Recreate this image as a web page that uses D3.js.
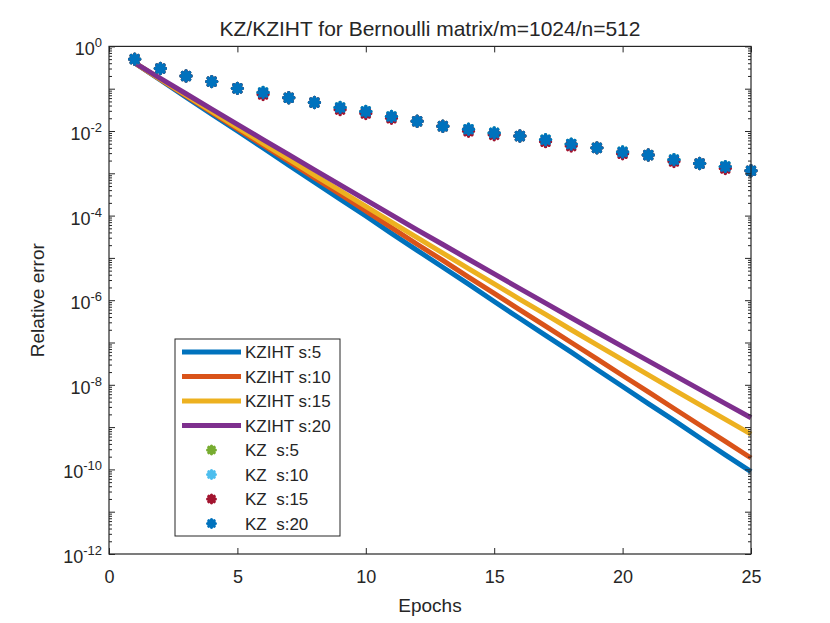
<!DOCTYPE html>
<html><head><meta charset="utf-8">
<script src="https://cdn.jsdelivr.net/npm/d3@7"></script>
<style>
body{margin:0;background:#fff}
text{font-family:"Liberation Sans",Arial,sans-serif;fill:#262626}
</style>
</head><body>
<svg id="c" width="830" height="623"></svg>
<script>
// ---------- data ----------
const epochs = [1,2,3,4,5,6,7,8,9,10,11,12,13,14,15,16,17,18,19,20,21,22,23,24,25];
const kziht5  = [0.407,0.162,0.063,0.025,0.010,3.98e-3,1.55e-3,6.2e-4,2.45e-4,9.8e-5,3.8e-5,1.51e-5,6.0e-6,2.4e-6,9.3e-7,3.7e-7,1.48e-7,5.9e-8,2.3e-8,9.1e-9,3.6e-9,1.44e-9,5.6e-10,2.2e-10,8.9e-11];
const kziht10 = [0.407,0.166,0.068,0.0275,0.0112,4.6e-3,1.9e-3,7.8e-4,3.2e-4,1.29e-4,5.2e-5,2.1e-5,8.7e-6,3.5e-6,1.45e-6,5.9e-7,2.45e-7,1.0e-7,4.1e-8,1.66e-8,6.8e-9,2.75e-9,1.12e-9,4.6e-10,1.86e-10];
const kziht15 = [0.407,0.169,0.070,0.0292,0.01222,5.13e-3,2.16e-3,9.1e-4,3.87e-4,1.65e-4,7.0e-5,3.0e-5,1.30e-5,5.6e-6,2.42e-6,1.05e-6,4.6e-7,2.0e-7,8.8e-8,3.9e-8,1.72e-8,7.6e-9,3.4e-9,1.52e-9,6.8e-10];
const kziht20 = [0.407,0.176,0.0760,0.0330,0.01435,6.27e-3,2.75e-3,1.21e-3,5.3e-4,2.36e-4,1.04e-4,4.6e-5,2.07e-5,9.3e-6,4.2e-6,1.88e-6,8.5e-7,3.85e-7,1.75e-7,8.0e-8,3.67e-8,1.69e-8,7.8e-9,3.6e-9,1.66e-9];
const kz5  = [0.50,0.30,0.20,0.147,0.102,0.081,0.061,0.047,0.036,0.029,0.022,0.017,0.013,0.011,0.0090,0.0076,0.0062,0.0049,0.0040,0.0032,0.0027,0.0021,0.0017,0.00144,0.00115];
const kz10 = [0.50,0.30,0.20,0.147,0.102,0.081,0.061,0.047,0.036,0.029,0.022,0.017,0.013,0.011,0.0090,0.0076,0.0062,0.0049,0.0040,0.0032,0.0027,0.0021,0.0017,0.00144,0.00115];
const kz15 = [0.50,0.30,0.20,0.147,0.102,0.073,0.061,0.047,0.032,0.026,0.020,0.017,0.013,0.0099,0.0081,0.0076,0.0056,0.0044,0.0040,0.0029,0.0027,0.0019,0.0017,0.0013,0.00115];
const kz20 = [0.50,0.30,0.20,0.147,0.102,0.081,0.061,0.047,0.036,0.029,0.022,0.017,0.013,0.011,0.0090,0.0076,0.0062,0.0049,0.0040,0.0032,0.0027,0.0021,0.0017,0.00144,0.00115];
const lineNames = ["KZIHT s:5","KZIHT s:10","KZIHT s:15","KZIHT s:20"];
const markerNames = ["KZ  s:5","KZ  s:10","KZ  s:15","KZ  s:20"];
const xTicks = [0,5,10,15,20,25];
const yTickExps = [0,-2,-4,-6,-8,-10,-12];
const titleText = "KZ/KZIHT for Bernoulli matrix/m=1024/n=512";
const xLabel = "Epochs", yLabel = "Relative error";

// ---------- layout ----------
const L = 109, R = 751, T = 46.4, B = 554;
const lineColors = ["#0072BD","#D95319","#EDB120","#7E2F8E"];
const markerColors = ["#77AC30","#4DBEEE","#A2142F","#0072BD"];
const ink = "#262626";

const svg = d3.select("#c");
const x = d3.scaleLinear().domain([0,25]).range([L,R]);
const y = d3.scaleLog().domain([1e-12,1]).range([B,T]);

svg.append("rect").attr("x",L).attr("y",T).attr("width",R-L).attr("height",B-T).attr("fill","#fff");

// asterisk symbol (plus + x)
const asterisk = {draw(ctx,size){const r=Math.sqrt(size)/2, d=r*0.7071;
  ctx.moveTo(-r,0);ctx.lineTo(r,0);ctx.moveTo(0,-r);ctx.lineTo(0,r);
  ctx.moveTo(-d,-d);ctx.lineTo(d,d);ctx.moveTo(-d,d);ctx.lineTo(d,-d);}};
const sym = d3.symbol().type(asterisk).size(100);

// lines
const lineSeries = [kziht5,kziht10,kziht15,kziht20];
const line = d3.line().x((d,i)=>x(epochs[i])).y(d=>y(d));
const gl = svg.append("g");
lineSeries.forEach((s,k)=>{
  gl.append("path").datum(s).attr("d",line).attr("fill","none")
    .attr("stroke",lineColors[k]).attr("stroke-width",5).attr("stroke-linejoin","round");
});

// markers
const markerSeries = [kz5,kz10,kz15,kz20];
const gm = svg.append("g");
markerSeries.forEach((s,k)=>{
  gm.selectAll(null).data(s).enter().append("path")
    .attr("transform",(d,i)=>`translate(${x(epochs[i])},${y(d)})`)
    .attr("d",sym).attr("fill","none").attr("stroke",markerColors[k])
    .attr("stroke-width",3.4).attr("stroke-linecap","round");
});

// axes
const majorVals = d3.range(-12,1).map(e=>Math.pow(10,e));
const minorVals = [];
for(let e=-12;e<0;e++) for(let m=2;m<=9;m++) minorVals.push(m*Math.pow(10,e));

const gx = svg.append("g").attr("transform",`translate(0,${B})`)
  .call(d3.axisBottom(x).tickValues(xTicks).tickSizeInner(-6).tickSizeOuter(0).tickPadding(16).tickFormat(d3.format("d")));
const gxt = svg.append("g").attr("transform",`translate(0,${T})`)
  .call(d3.axisTop(x).tickValues(xTicks).tickSizeInner(-6).tickSizeOuter(0).tickFormat(""));
const gy = svg.append("g").attr("transform",`translate(${L},0)`)
  .call(d3.axisLeft(y).tickValues(majorVals).tickSizeInner(-6).tickSizeOuter(0).tickFormat(""));
const gyr = svg.append("g").attr("transform",`translate(${R},0)`)
  .call(d3.axisRight(y).tickValues(majorVals).tickSizeInner(-6).tickSizeOuter(0).tickFormat(""));
const gym = svg.append("g").attr("transform",`translate(${L},0)`)
  .call(d3.axisLeft(y).tickValues(minorVals).tickSizeInner(-3).tickSizeOuter(0).tickFormat(""));
const gymr = svg.append("g").attr("transform",`translate(${R},0)`)
  .call(d3.axisRight(y).tickValues(minorVals).tickSizeInner(-3).tickSizeOuter(0).tickFormat(""));
[gx,gxt,gy,gyr,gym,gymr].forEach(g=>{
  g.select(".domain").remove();
  g.selectAll("line").attr("stroke",ink).attr("stroke-width",1);
});
gx.selectAll("text").attr("font-size",18).attr("font-family","Liberation Sans, Arial, sans-serif").attr("fill",ink);

// y tick labels 10^e
const gyl = svg.append("g");
yTickExps.forEach(e=>{
  const t = gyl.append("text").attr("x",L-7).attr("y",y(Math.pow(10,e))+9)
    .attr("text-anchor","end").attr("font-size",18);
  t.append("tspan").text("10");
  t.append("tspan").attr("font-size",13).attr("dy",-8).text(e===0?"0":"-"+(-e));
});

// frame
svg.append("rect").attr("x",L).attr("y",T).attr("width",R-L).attr("height",B-T)
  .attr("fill","none").attr("stroke",ink).attr("stroke-width",1.2);

// title & labels
svg.append("text").attr("x",(L+R)/2).attr("y",36).attr("text-anchor","middle")
  .attr("font-size",21).text(titleText);
svg.append("text").attr("x",(L+R)/2).attr("y",612).attr("text-anchor","middle")
  .attr("font-size",19).text(xLabel);
svg.append("text").attr("transform",`translate(44,${(T+B)/2}) rotate(-90)`)
  .attr("text-anchor","middle").attr("font-size",19).text(yLabel);

// legend
const lg = svg.append("g");
lg.append("rect").attr("x",175).attr("y",339).attr("width",165).attr("height",197)
  .attr("fill","#fff").attr("stroke",ink).attr("stroke-width",1);
const rowY = i=>352+i*24.5;
lineNames.forEach((n,i)=>{
  lg.append("line").attr("x1",182).attr("x2",241).attr("y1",rowY(i)).attr("y2",rowY(i))
    .attr("stroke",lineColors[i]).attr("stroke-width",5);
  lg.append("text").attr("x",245).attr("y",rowY(i)+6).attr("font-size",17).text(n);
});
markerNames.forEach((n,j)=>{
  const i=j+4;
  lg.append("path").attr("transform",`translate(211.5,${rowY(i)})`).attr("d",d3.symbol().type(asterisk).size(60))
    .attr("fill","none").attr("stroke",markerColors[j]).attr("stroke-width",3.2).attr("stroke-linecap","round");
  lg.append("text").attr("x",245).attr("y",rowY(i)+6).attr("font-size",17)
    .attr("xml:space","preserve").style("white-space","pre").text(n);
});
</script>
</body></html>
